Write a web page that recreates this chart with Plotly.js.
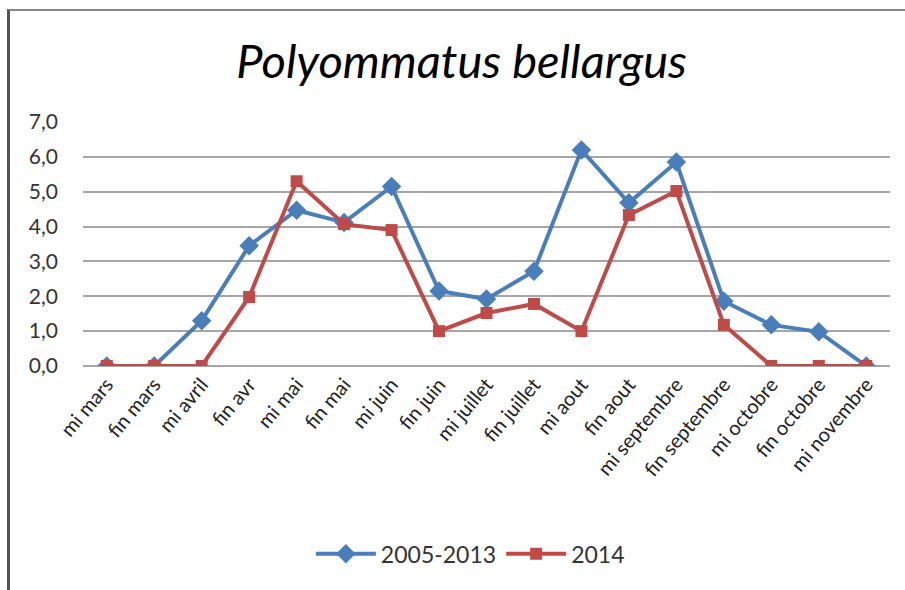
<!DOCTYPE html>
<html>
<head>
<meta charset="utf-8">
<script src="https://cdn.plot.ly/plotly-3.0.1.min.js"></script>
<style>
html,body{margin:0;padding:0;background:#fff;}
#frame{position:absolute;left:7px;top:9px;width:910px;height:600px;border-left:3px solid #555;border-top:2px solid #888;box-sizing:border-box;pointer-events:none;z-index:10;}
#chart{width:905px;height:590px;}
</style>
</head>
<body>
<div id="frame"></div>
<div id="chart"></div>
<script>
const categories = ["mi mars","fin mars","mi avril","fin avr","mi mai","fin mai","mi juin","fin juin","mi juillet","fin juillet","mi aout","fin aout","mi septembre","fin septembre","mi octobre","fin octobre","mi novembre"];
const series2005_2013 = [0,0,1.3,3.45,4.47,4.12,5.15,2.15,1.92,2.72,6.2,4.68,5.85,1.86,1.18,0.98,0];
const series2014 = [0,0,0,1.98,5.3,4.07,3.9,1.0,1.52,1.78,1.0,4.33,5.02,1.18,0,0,0];
const yTicks = [0,1,2,3,4,5,6,7];

const fontFam = "Lato, 'Open Sans', sans-serif";
const traces = [
  {x: categories, y: series2005_2013, name: "2005-2013", type: "scatter", mode: "lines+markers",
   line: {color: "#4A7EBB", width: 4}, marker: {symbol: "diamond", size: 15, color: "#4A7EBB"}},
  {x: categories, y: series2014, name: "2014", type: "scatter", mode: "lines+markers",
   line: {color: "#BE4B48", width: 4}, marker: {symbol: "square", size: 12, color: "#BE4B48"}}
];
const layout = {
  width: 905, height: 590,
  margin: {l: 83, r: 15, t: 122, b: 224},
  paper_bgcolor: "#fff", plot_bgcolor: "#fff",
  separators: ",.",
  title: {text: "<i>Polyommatus bellargus</i>", x: 0.51, xanchor: "center", y: 0.895, yanchor: "middle",
          font: {family: fontFam, size: 47, color: "#000"}},
  xaxis: {type: "category", range: [-0.5, 16.5], tickangle: -50, showgrid: false, zeroline: false,
          showline: false, ticks: "", tickfont: {family: fontFam, size: 20, color: "#222"}, ticklabelstandoff: 2},
  yaxis: {range: [0, 7], tickvals: yTicks, tickformat: ".1f", showgrid: true, gridcolor: "#a6a6a6", gridwidth: 2,
          zeroline: true, zerolinecolor: "#a6a6a6", zerolinewidth: 2, showline: false, ticks: "",
          ticklabelstandoff: 24, tickfont: {family: fontFam, size: 21, color: "#333"}},
  showlegend: true,
  legend: {orientation: "h", x: 0.48, xanchor: "center", y: -0.77, yanchor: "middle",
           font: {family: fontFam, size: 23, color: "#333"}, itemwidth: 60, traceorder: "normal"}
};
Plotly.newPlot("chart", traces, layout, {displayModeBar: false, staticPlot: true});
</script>
</body>
</html>
